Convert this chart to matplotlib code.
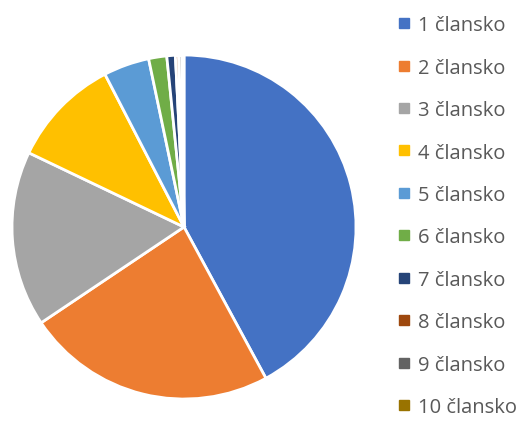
import matplotlib.pyplot as plt
from matplotlib.lines import Line2D

labels = ['1 člansko', '2 člansko', '3 člansko', '4 člansko', '5 člansko',
          '6 člansko', '7 člansko', '8 člansko', '9 člansko', '10 člansko']
values = [42.1, 23.5, 16.5, 10.3, 4.3, 1.7, 0.8, 0.3, 0.3, 0.2]
colors = ['#4472C4', '#ED7D31', '#A5A5A5', '#FFC000', '#5B9BD5',
          '#70AD47', '#264478', '#9E480E', '#636363', '#997300']

plt.rcParams['font.family'] = ['Open Sans', 'DejaVu Sans']

fig = plt.figure(figsize=(5.22, 4.39), dpi=100)
ax = fig.add_axes([0.023, 0.0888, 0.659, 0.7836])
ax.pie(values, colors=colors, startangle=90, counterclock=False,
       wedgeprops={'edgecolor': 'white', 'linewidth': 2})
ax.set_xlim(-1, 1)
ax.set_ylim(-1, 1)
ax.set_aspect('equal')

# legend
handles = [Line2D([0], [0], marker='s', linestyle='', markersize=6.5,
                  markerfacecolor=c, markeredgecolor=c) for c in colors]
fig.legend(handles, labels, loc='upper left', bbox_to_anchor=(0.728, 1.0045),
           frameon=False, fontsize=14.5, labelspacing=1.115, handlelength=0.6,
           handletextpad=0.4, labelcolor='#595959')

fig.savefig('out.png', dpi=100)
